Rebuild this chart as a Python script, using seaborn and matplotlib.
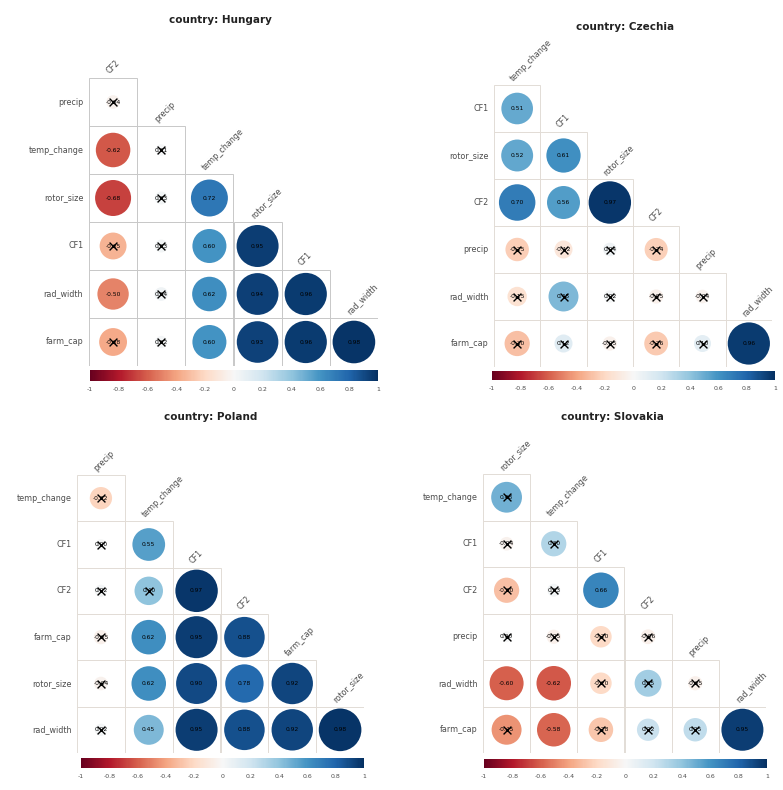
import numpy as np
import pandas as pd
import seaborn as sns
import matplotlib
matplotlib.use("Agg")
import matplotlib.pyplot as plt
from matplotlib.colors import Normalize
from matplotlib.cm import ScalarMappable

sns.set_theme(style="white")
plt.rcParams["font.family"] = ["DejaVu Sans"]

# ---- correlation data (lower triangle, row i holds r with the first i variables) ----
hungary_vars = ["CF2", "precip", "temp_change", "rotor_size", "CF1", "rad_width", "farm_cap"]
hungary_r = [
    [-0.04],
    [-0.62, 0.01],
    [-0.68, 0.03, 0.72],
    [-0.35, 0.03, 0.60, 0.95],
    [-0.50, 0.04, 0.62, 0.94, 0.96],
    [-0.38, 0.02, 0.60, 0.93, 0.96, 0.98],
]
hungary_sig = [
    [0],
    [1, 0],
    [1, 0, 1],
    [0, 0, 1, 1],
    [1, 0, 1, 1, 1],
    [0, 0, 1, 1, 1, 1],
]

czechia_vars = ["temp_change", "CF1", "rotor_size", "CF2", "precip", "rad_width", "farm_cap"]
czechia_r = [
    [0.51],
    [0.52, 0.61],
    [0.70, 0.56, 0.97],
    [-0.25, -0.12, 0.04, -0.24],
    [-0.15, 0.45, 0.02, -0.05, -0.04],
    [-0.30, 0.12, -0.05, -0.26, 0.10, 0.96],
]
czechia_sig = [
    [1],
    [1, 1],
    [1, 1, 1],
    [0, 0, 0, 0],
    [0, 0, 0, 0, 0],
    [0, 0, 0, 0, 0, 1],
]

poland_vars = ["precip", "temp_change", "CF1", "CF2", "farm_cap", "rotor_size", "rad_width"]
poland_r = [
    [-0.22],
    [0.00, 0.55],
    [0.02, 0.40, 0.97],
    [-0.05, 0.62, 0.95, 0.88],
    [-0.04, 0.62, 0.90, 0.78, 0.92],
    [0.02, 0.45, 0.95, 0.88, 0.92, 0.98],
]
poland_sig = [
    [0],
    [0, 1],
    [0, 0, 1],
    [0, 1, 1, 1],
    [0, 1, 1, 1, 1],
    [0, 1, 1, 1, 1, 1],
]

slovakia_vars = ["rotor_size", "temp_change", "CF1", "CF2", "precip", "rad_width", "farm_cap"]
slovakia_r = [
    [0.48],
    [-0.04, 0.30],
    [-0.30, 0.03, 0.66],
    [0.00, -0.05, -0.20, -0.06],
    [-0.60, -0.62, -0.20, 0.35, -0.05],
    [-0.45, -0.58, -0.28, 0.22, 0.25, 0.95],
]
slovakia_sig = [
    [0],
    [0, 0],
    [0, 0, 1],
    [0, 0, 0, 0],
    [1, 1, 0, 0, 0],
    [0, 1, 0, 0, 0, 1],
]

countries = ["Hungary", "Czechia", "Poland", "Slovakia"]
variables = [hungary_vars, czechia_vars, poland_vars, slovakia_vars]
corrs = [hungary_r, czechia_r, poland_r, slovakia_r]
sigs = [hungary_sig, czechia_sig, poland_sig, slovakia_sig]
cbar_ticks = [-1, -0.8, -0.6, -0.4, -0.2, 0, 0.2, 0.4, 0.6, 0.8, 1]

# ---- layout (figure fractions) ----
W, H = 783, 790
def frac(x0, y0, x1, y1):
    return [x0 / W, 1 - y1 / H, (x1 - x0) / W, (y1 - y0) / H]

grid_boxes = [frac(89, 78, 378, 366), frac(494, 85, 772, 367),
              frac(77, 475, 364, 753), frac(483, 474, 766, 753)]
cbar_boxes = [frac(90, 370, 378, 381), frac(492, 371, 775, 380),
              frac(81, 758, 364, 768), frac(484, 759, 767, 768)]
title_pos = [(220, 20), (625, 27), (211, 417), (612, 417)]

fig = plt.figure(figsize=(7.83, 7.90), dpi=100)
norm = Normalize(-1, 1)
cmap = plt.get_cmap("RdBu")

for k, country in enumerate(countries):
    names = variables[k]
    rows = []
    for i, (rvals, svals) in enumerate(zip(corrs[k], sigs[k])):
        for j, (r, s) in enumerate(zip(rvals, svals)):
            rows.append({"col": j, "row": i, "r": r, "absr": abs(r), "sig": s})
    df = pd.DataFrame(rows)
    n = len(names) - 1

    ax = fig.add_axes(grid_boxes[k])
    ax.set_xlim(-0.5, n - 0.5)
    ax.set_ylim(n - 0.5, -0.5)

    # staircase cell borders
    gcol = "#c8c8c8" if k == 0 else "#e2dcd6"
    for i in range(n):
        for j in range(i + 1):
            ax.add_patch(plt.Rectangle((j - 0.5, i - 0.5), 1, 1, fill=False,
                                       ec=gcol, lw=0.7, zorder=0))

    sns.scatterplot(data=df, x="col", y="row", hue="r", palette="RdBu",
                    hue_norm=(-1, 1), size="absr", sizes=(60, 960),
                    size_norm=(0, 1), edgecolor="none", legend=False,
                    ax=ax, zorder=2)

    for _, d in df.iterrows():
        ax.text(d["col"], d["row"], f"{d['r']:.2f}", ha="center", va="center",
                fontsize=4.3, color="black", zorder=3)
    ns = df[df["sig"] == 0]
    ax.scatter(ns["col"], ns["row"], marker="x", s=32, c="black",
               linewidths=1.0, zorder=4)

    # variable labels: rows on the left, columns along the diagonal
    for i in range(n):
        ax.text(-0.62, i, names[i + 1], ha="right", va="center",
                fontsize=5.8, color="#4d4d4d")
    for j in range(n):
        ax.text(j - 0.05, j - 0.55, names[j], ha="left", va="bottom",
                rotation=45, rotation_mode="anchor", fontsize=5.8, color="#4d4d4d")

    ax.set_axis_off()

    tx, ty = title_pos[k]
    fig.text(tx / W, 1 - ty / H, f"country: {country}", ha="center", va="center",
             fontsize=7.5, fontweight="bold", color="#222222")

    cax = fig.add_axes(cbar_boxes[k])
    cb = fig.colorbar(ScalarMappable(norm=norm, cmap=cmap), cax=cax,
                      orientation="horizontal")
    cb.outline.set_visible(False)
    cb.set_ticks(cbar_ticks)
    cb.set_ticklabels([f"{t:g}" for t in cbar_ticks])
    cax.tick_params(length=0, labelsize=4.5, labelcolor="#4d4d4d", pad=4)

fig.savefig("out.png", dpi=100)
